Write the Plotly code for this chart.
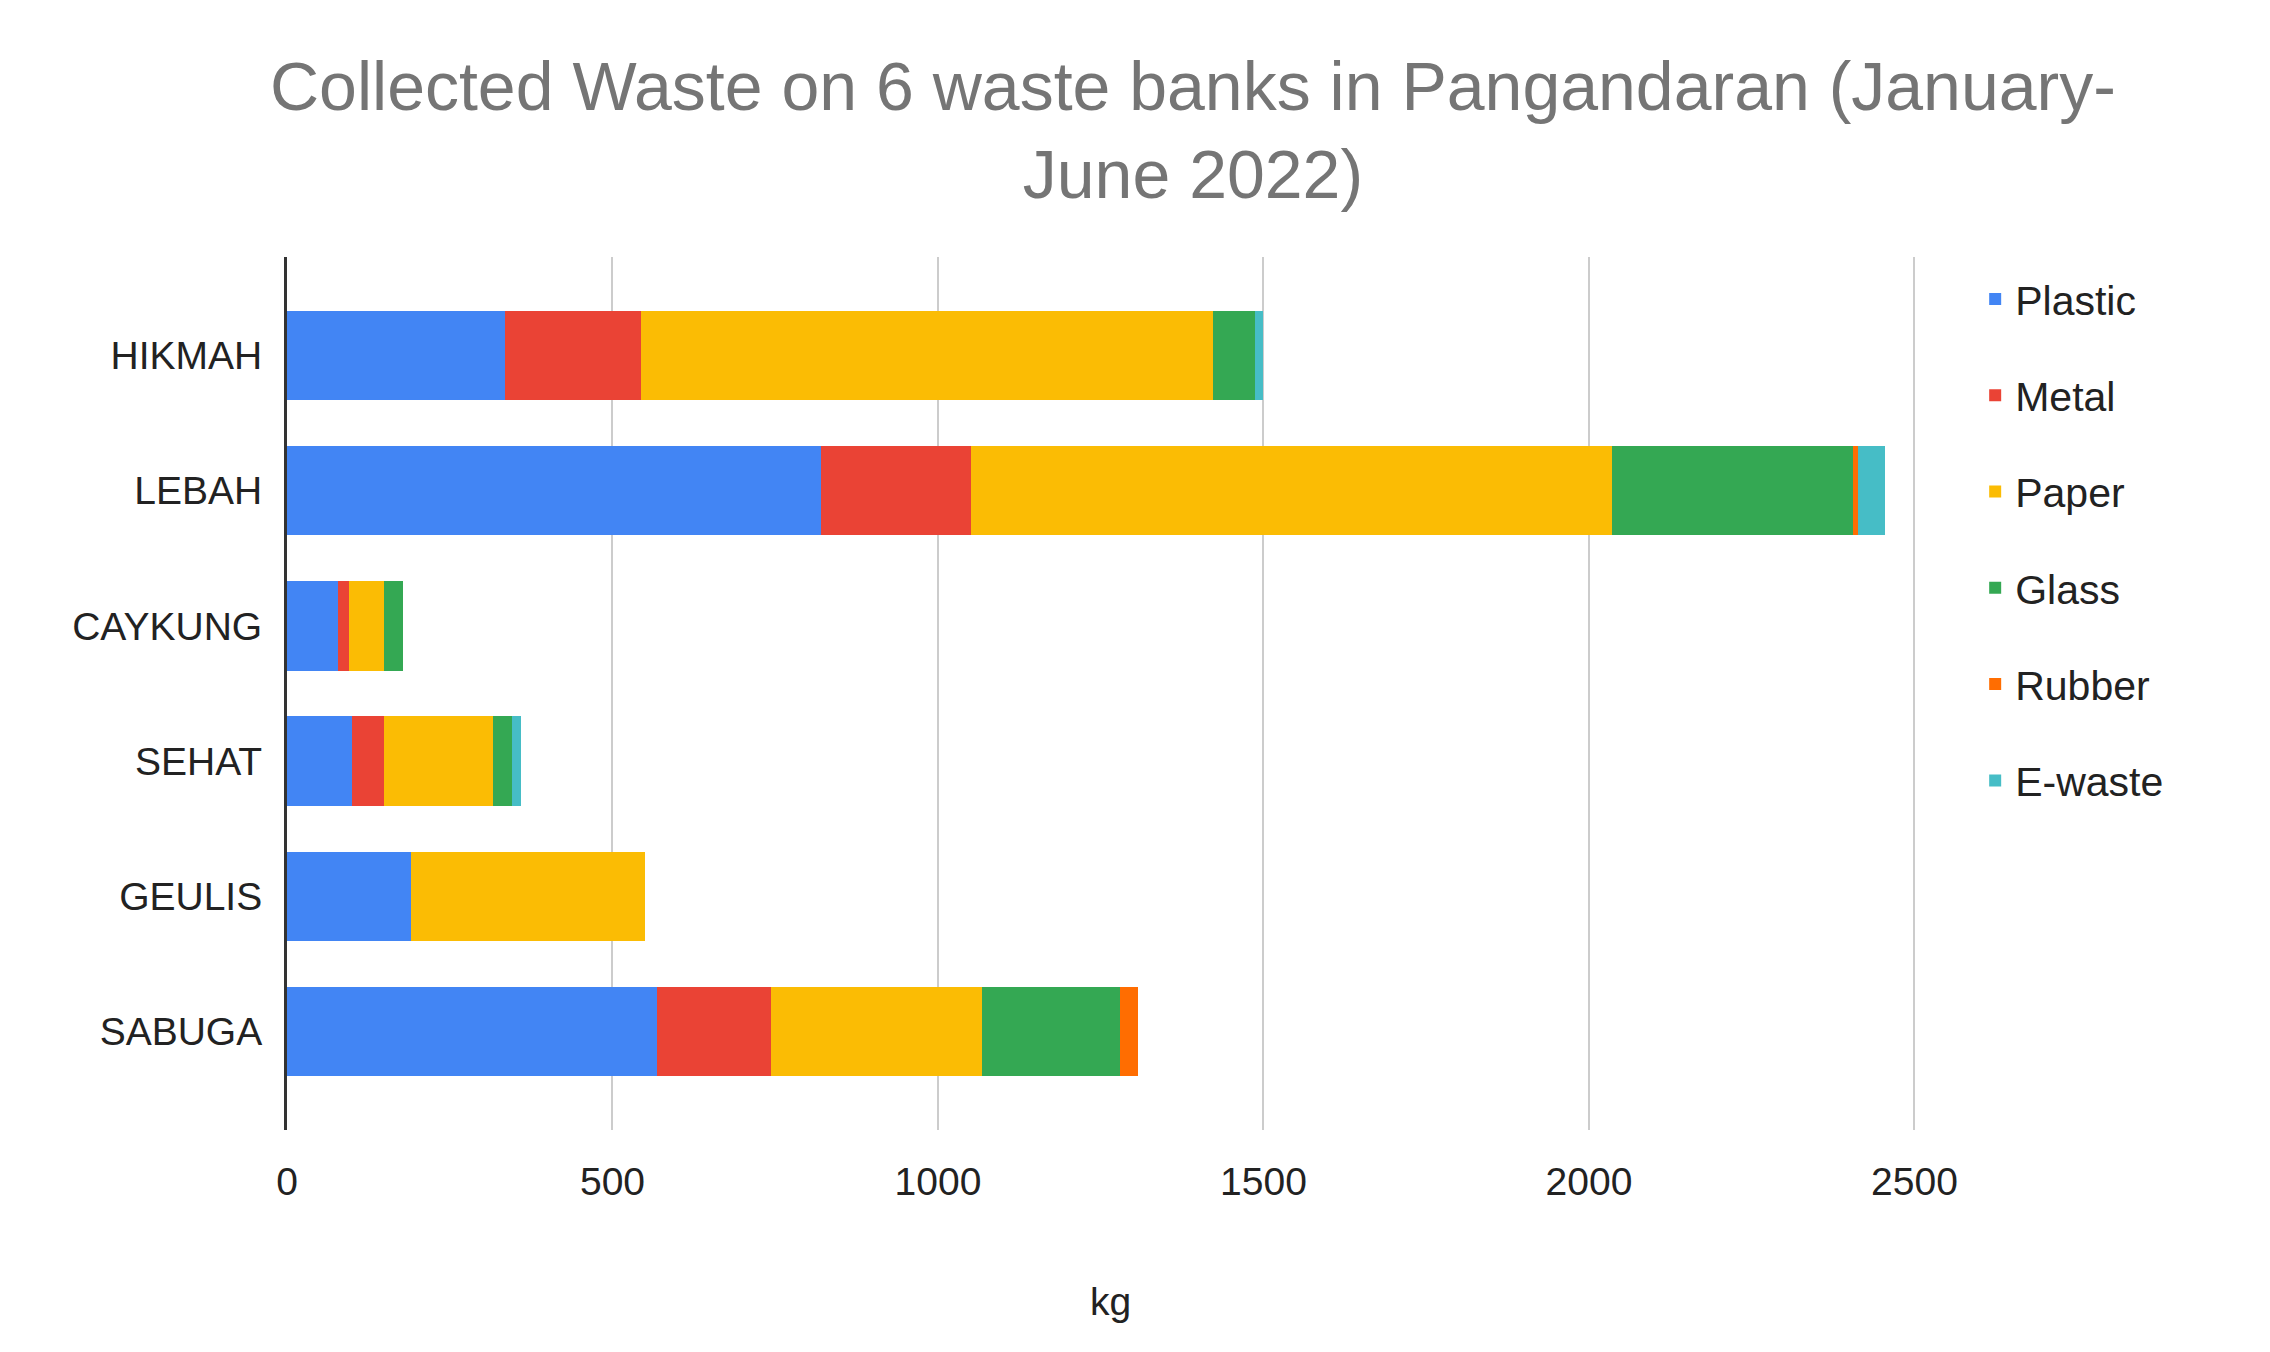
import plotly.graph_objects as go

banks = ["HIKMAH", "LEBAH", "CAYKUNG", "SEHAT", "GEULIS", "SABUGA"]
plastic = [335, 821, 78, 100, 191, 568]
metal = [209, 229, 17, 49, 0, 176]
paper = [879, 985, 54, 168, 359, 324]
glass = [64, 371, 29, 29, 0, 211]
rubber = [0, 7, 0, 0, 0, 28]
ewaste = [13, 42, 0, 14, 0, 0]

series = [("Plastic", plastic, "#4285F4"), ("Metal", metal, "#EA4335"),
          ("Paper", paper, "#FBBC04"), ("Glass", glass, "#34A853"),
          ("Rubber", rubber, "#FF6D01"), ("E-waste", ewaste, "#46BDC6")]

fig = go.Figure()
for i, (name, vals, col) in enumerate(series):
    fig.add_trace(go.Bar(y=banks, x=vals, name=name, orientation="h",
                         marker=dict(color=col, line=dict(width=0)), legendgroup=str(i)))

fig.update_layout(
    barmode="stack", bargap=0.34, width=2270, height=1352,
    paper_bgcolor="white", plot_bgcolor="white",
    font=dict(family="Arial, Liberation Sans", color="#222222", size=39),
    margin=dict(l=279, r=344, t=249, b=230),
    legend=dict(x=1.025, xanchor="left", y=0.99, yanchor="top", font=dict(size=41),
                traceorder="grouped", tracegroupgap=40, itemwidth=30),
    xaxis=dict(range=[0, 2530], tickvals=[0, 500, 1000, 1500, 2000, 2500],
               showgrid=True, gridcolor="#CCCCCC", gridwidth=2, zeroline=False,
               ticklabelstandoff=25,
               title=dict(text="kg", font=dict(size=39), standoff=85), ticks=""),
    yaxis=dict(range=[5.73, -0.73], showline=True, linecolor="#333333", linewidth=3,
               ticks="", ticklabelstandoff=14),
    annotations=[dict(text="Collected Waste on 6 waste banks in Pangandaran (January-<br>June 2022)",
                      xref="paper", yref="paper", x=0.55, y=1.145, xanchor="center",
                      yanchor="middle", showarrow=False,
                      font=dict(size=68, color="#757575"))],
)
fig.write_html("out.html")
